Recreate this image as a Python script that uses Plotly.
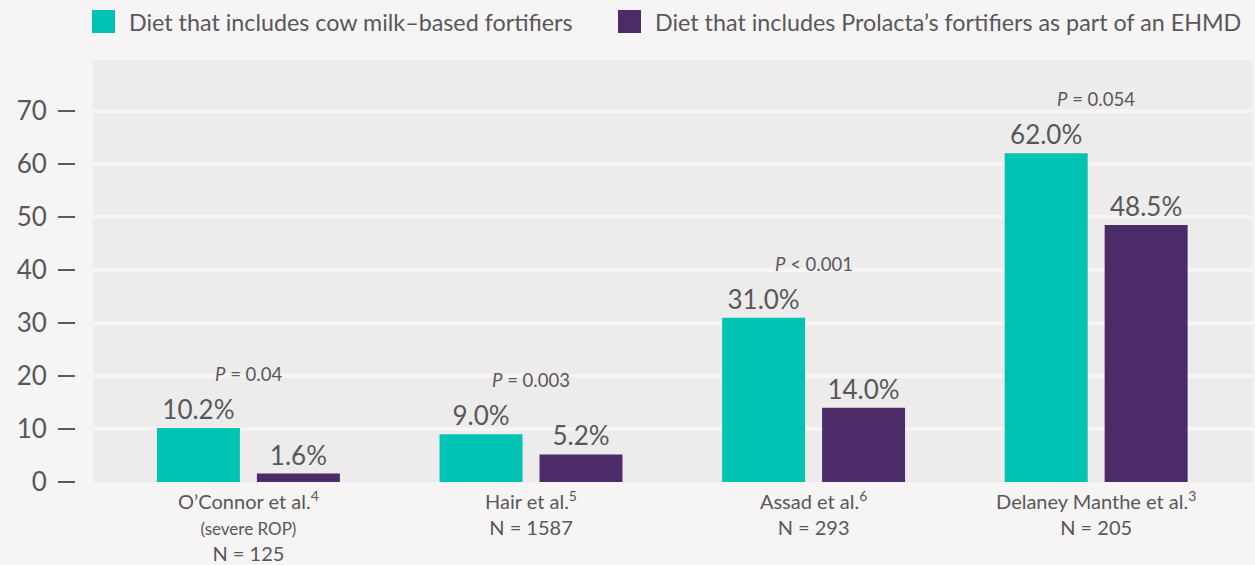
import plotly.graph_objects as go

# ---- data ----
studies = ["O’Connor et al.", "Hair et al.", "Assad et al.", "Delaney Manthe et al."]
refs = ["4", "5", "6", "3"]
subnotes = ["(severe ROP)", "", "", ""]
n_values = [125, 1587, 293, 205]
cow_milk = [10.2, 9.0, 31.0, 62.0]
prolacta = [1.6, 5.2, 14.0, 48.5]
p_values = ["= 0.04", "= 0.003", "< 0.001", "= 0.054"]
series_names = ["Diet that includes cow milk–based fortifiers",
                "Diet that includes Prolacta’s fortifiers as part of an EHMD"]
y_ticks = [0, 10, 20, 30, 40, 50, 60, 70]

# ---- style ----
W, H = 1255, 565
PAGE_BG = "#F6F4F5"
PLOT_BG = "#EDEBEC"
TEAL = "#00C4B3"
PURPLE = "#4B2C69"
TXT = "#58585A"
FONT = "Lato"

labels = []
for s, r, sub, n in zip(studies, refs, subnotes, n_values):
    lab = f"{s}<sup>{r}</sup>"
    if sub:
        lab += f"<br><span style='font-size:17px'>{sub}</span>"
    lab += f"<br>N = {n}"
    labels.append(lab)

fig = go.Figure()
for vals, color, name in [(cow_milk, TEAL, series_names[0]), (prolacta, PURPLE, series_names[1])]:
    fig.add_trace(go.Bar(
        x=labels, y=vals, name=name, marker_color=color, marker_line_width=0,
        texttemplate="%{y:.1f}%", textposition="outside",
        textfont=dict(size=26, color=TXT, family=FONT),
        cliponaxis=False, showlegend=False,
    ))

# P-value annotations above each group
for lab, v, p in zip(labels, cow_milk, p_values):
    fig.add_annotation(x=lab, y=v, text=f"<i>P</i> {p}", showarrow=False,
                       yshift=54, xref="x", yref="y",
                       font=dict(size=18.5, color=TXT, family=FONT))

# custom legend
leg_items = [(TEAL, series_names[0], 92), (PURPLE, series_names[1], 618)]
for color, name, px in leg_items:
    fig.add_shape(type="rect", xref="paper", yref="paper",
                  x0=px / W, x1=(px + 23) / W,
                  y0=(482 - 33) / 422, y1=(482 - 10) / 422,
                  fillcolor=color, line_width=0)
    fig.add_annotation(xref="paper", yref="paper", x=(px + 35) / W,
                       y=(482 - 22) / 422, text=name, showarrow=False,
                       xanchor="left", yanchor="middle",
                       font=dict(size=23.3, color=TXT, family=FONT))

fig.update_layout(
    width=W, height=H,
    margin=dict(l=0, r=0, t=60, b=83),
    paper_bgcolor=PAGE_BG, plot_bgcolor=PLOT_BG,
    barmode="group", bargap=0.2925, bargroupgap=0.17,
    font=dict(family=FONT, color=TXT),
    showlegend=False,
    xaxis=dict(domain=[93 / W, 1253 / W], range=[-0.55, 3.555],
               showgrid=False, zeroline=False, showline=False, ticks="",
               ticklabelstandoff=6,
               tickfont=dict(size=20, color=TXT, family=FONT)),
    yaxis=dict(range=[0, 79.6], tickvals=y_ticks, anchor="free",
               position=75 / W, showgrid=True, gridcolor=PAGE_BG, gridwidth=4,
               zeroline=False, showline=False, ticks="outside", ticklen=17,
               tickwidth=2, tickcolor="#5A5A5C", ticklabelstandoff=6,
               tickfont=dict(size=26, color=TXT, family=FONT)),
)

fig.write_html("out.html", config={"displayModeBar": False},
               post_script="document.body.style.margin='0';document.body.style.overflow='hidden';")
